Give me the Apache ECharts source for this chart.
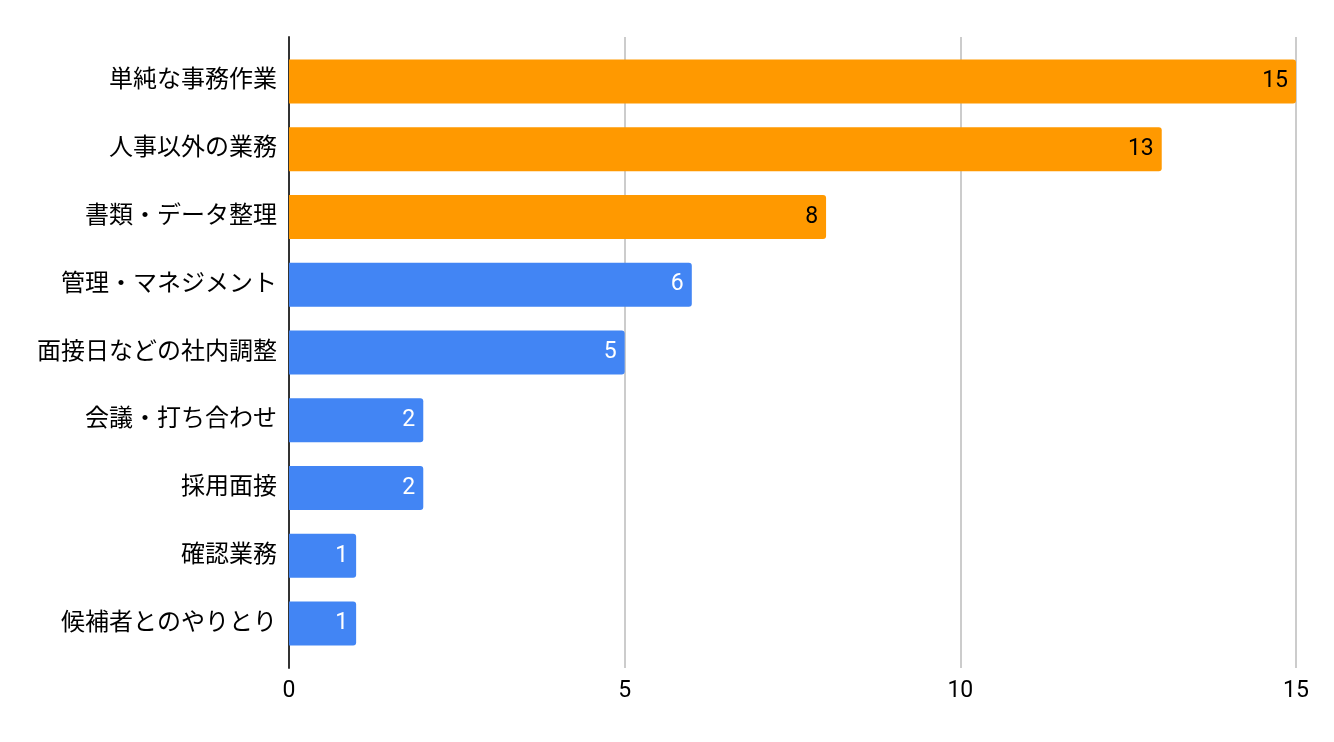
<!DOCTYPE html>
<html><head><meta charset="utf-8">
<script src="https://cdn.jsdelivr.net/npm/echarts@6/dist/echarts.min.js"></script>
<style>html,body{margin:0;padding:0;background:#fff}#c{width:1334px;height:742px}</style>
</head><body><div id="c"></div>
<script>
const categories = ["単純な事務作業","人事以外の業務","書類・データ整理","管理・マネジメント","面接日などの社内調整","会議・打ち合わせ","採用面接","確認業務","候補者とのやりとり"];
const values = [15,13,8,6,5,2,2,1,1];
const highlight = [true,true,true,false,false,false,false,false,false];
const xTicks = [0,5,10,15];

const ORANGE = "#FF9900", BLUE = "#4285F4";
const chart = echarts.init(document.getElementById('c'));
const font = "Roboto, 'Noto Sans CJK JP', sans-serif";
chart.setOption({
  animation:false,
  grid:[
    {left:289,right:38,top:47.6,bottom:742-657.4},
    {left:289,right:38,top:37,bottom:742-668}
  ],
  xAxis:[
    {gridIndex:0,type:'value',min:0,max:15,interval:5,show:false},
    {gridIndex:1,type:'value',min:xTicks[0],max:xTicks[xTicks.length-1],interval:5,
     axisLine:{show:false},axisTick:{show:false},
     splitLine:{show:true,lineStyle:{color:'#cccccc',width:2}},
     axisLabel:{color:'#000',fontSize:23,fontFamily:font,margin:12}}
  ],
  yAxis:[
    {gridIndex:0,type:'category',data:categories,inverse:true,
     axisLine:{show:false},axisTick:{show:false},
     axisLabel:{color:'#000',fontSize:24,fontFamily:font,margin:12}},
    {gridIndex:1,type:'category',data:[''],
     axisLine:{show:true,onZero:false,lineStyle:{color:'#333',width:2}},axisTick:{show:false},axisLabel:{show:false}}
  ],
  series:[{
    type:'bar',xAxisIndex:0,yAxisIndex:0,barWidth:44,
    data:values.map((v,i)=>({value:v,
      itemStyle:{color:highlight[i]?ORANGE:BLUE,borderRadius:[0,3,3,0]},
      label:{color:highlight[i]?'#000':'#fff'}})),
    label:{show:true,position:'insideRight',distance:8,fontSize:23,fontFamily:font}
  }]
});
</script></body></html>
